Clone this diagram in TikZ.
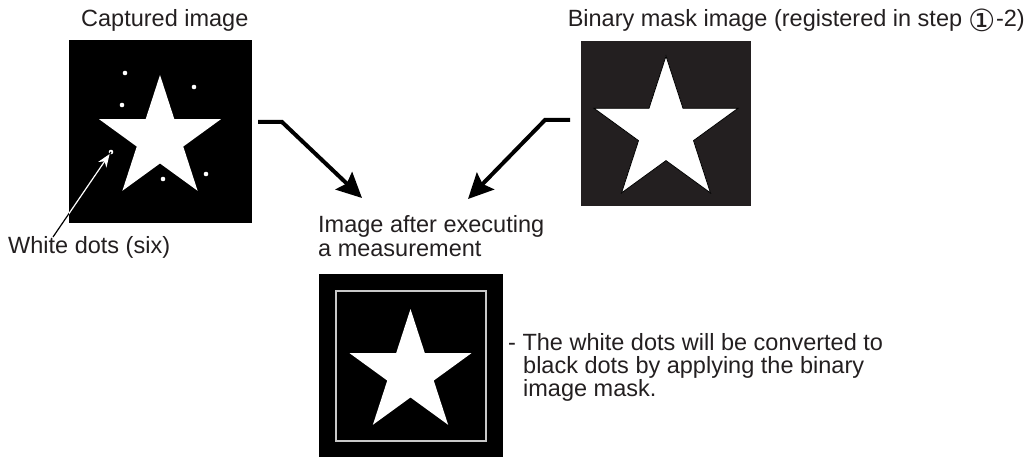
\documentclass[tikz,border=0pt]{standalone}
\usepackage{fontspec}
\setmainfont{Liberation Sans}
\newfontfamily\dejavu{DejaVu Sans}
\usetikzlibrary{arrows.meta}
\definecolor{ink}{RGB}{35,31,32}
\definecolor{maskbg}{RGB}{35,31,32}
\definecolor{frame}{RGB}{200,200,200}
\newcommand{\mystar}[4]{%
  \begin{scope}[shift={(#1,#2)}]
    \path[#4] (-90:#3) -- ({-54}:{0.382*#3}) -- (-18:#3) -- (18:{0.382*#3}) -- (54:#3)
      -- (90:{0.382*#3}) -- (126:#3) -- (162:{0.382*#3}) -- (198:#3) -- (234:{0.382*#3}) -- cycle;
  \end{scope}}
\newcommand{\circone}{\raisebox{-4.5pt}{\dejavu\fontsize{30.5pt}{30.5pt}\selectfont ①}}
\tikzset{
  lbl/.style={text=ink, font=\fontsize{23.5pt}{24pt}\selectfont, inner sep=0pt},
  imgbox/.style={inner sep=0pt, outer sep=0pt},
  bigarrow/.style={draw=black, line width=4pt, miter limit=10, -{Stealth[length=25pt,width=24pt,inset=4pt]}},
  whitedot/.style={fill=white},
}
\begin{document}
\begin{tikzpicture}[x=1pt,y=-1pt]
\useasboundingbox (0,0) rectangle (1031,457);
% boxes
\node[imgbox, fill=black, minimum width=183pt, minimum height=183pt] (cap) at (160.5,131.5) {};
\node[imgbox, fill=maskbg, minimum width=170pt, minimum height=165pt] (mask) at (666,123.5) {};
\node[imgbox, fill=black, minimum width=184pt, minimum height=184pt] (res) at (411,366) {};
\node[imgbox, draw=frame, line width=1.2pt, minimum width=150pt, minimum height=150pt] (resin) at (411,366) {};
% stars
\mystar{160}{139}{64}{fill=white}
\mystar{666}{131.7}{75.7}{fill=white, draw=black, line width=0.8pt}
\mystar{410.5}{373}{64}{fill=white}
% dots
\coordinate (d1) at (125,73);
\coordinate (d2) at (194,87);
\coordinate (d3) at (122,105);
\coordinate (d4) at (111,152);
\coordinate (d5) at (163,179);
\coordinate (d6) at (206,174);
\fill[whitedot] (d1) circle (2.3pt) (d2) circle (2.3pt) (d3) circle (2.3pt)
  (d4) circle (2.3pt) (d5) circle (2.3pt) (d6) circle (2.3pt);
% labels
\node[lbl, anchor=base west] (tcap) at (81,27) {Captured image};
\node[lbl, anchor=base east] (tmask) at (1025,27) {Binary mask image (registered in step \circone-2)};
\node[lbl, anchor=base west] (twd) at (8,254) {White dots (six)};
\node[lbl, anchor=base west] (tres) at (318,233) {Image after executing};
\node[lbl, anchor=base west] (tres2) at (318,257) {a measurement};
\node[lbl, anchor=base west] (n1) at (508,350) {- The white dots will be converted to};
\node[lbl, anchor=base west] (n2) at (523,373) {black dots by applying the binary};
\node[lbl, anchor=base west] (n3) at (523,396) {image mask.};
% white-dot pointer
\coordinate (wdstart) at (53,237);
\draw[black, line width=1.2pt] (wdstart) -- (d4);
\begin{scope}
  \clip (cap.south west) rectangle (cap.north east);
  \draw[white, line width=1.2pt, shorten >=2.5pt, -{Stealth[length=13pt,width=10pt]}] (wdstart) -- (d4);
\end{scope}
% big arrows
\coordinate (a1s) at (258,122);
\coordinate (a1m) at (282,122);
\coordinate (a1e) at (362,198);
\coordinate (a2s) at (570,120);
\coordinate (a2m) at (545,120);
\coordinate (a2e) at (468,199);
\draw[bigarrow] (a1s) -- (a1m) -- (a1e);
\draw[bigarrow] (a2s) -- (a2m) -- (a2e);
\end{tikzpicture}
\end{document}
